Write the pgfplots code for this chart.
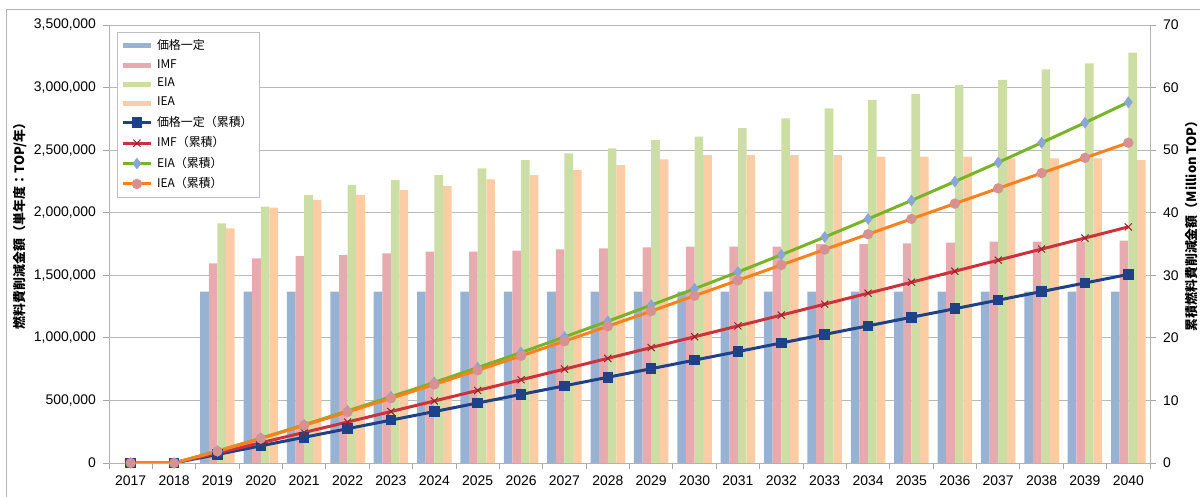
\documentclass[border=0pt]{standalone}
\usepackage{pgfplots}
\pgfplotsset{compat=1.18}
\usepackage{fontspec}
\setmainfont{Liberation Sans}
\newfontfamily\jp{Noto Sans CJK JP}

\definecolor{barblue}{RGB}{152,178,212}
\definecolor{barpink}{RGB}{230,170,175}
\definecolor{bargreen}{RGB}{205,222,165}
\definecolor{barorange}{RGB}{252,205,165}
\definecolor{lnblue}{RGB}{30,65,135}
\definecolor{lnred}{RGB}{205,50,60}
\definecolor{lngreen}{RGB}{120,180,40}
\definecolor{lnorange}{RGB}{250,130,30}
\definecolor{mkdiam}{RGB}{140,165,215}
\definecolor{mkcirc}{RGB}{215,145,145}

\begin{document}
\begin{tikzpicture}
\useasboundingbox (-54.5bp,-17bp) rectangle (545.5bp,231.5bp);
\draw[gray!60] (-51.2bp,-20bp) -- (-51.2bp,227bp) -- (550bp,227bp);

\pgfplotsset{
  base/.style={
    at={(0,0)}, anchor=south west,
    scale only axis, width=520.5bp, height=219bp,
    xmin=2016.5, xmax=2040.5,
    tick label style={font=\fontsize{7}{8}\selectfont},
    /pgf/number format/assume math mode=true,
    tick style={gray!70, thin},
    tick align=outside,
    major tick length=3bp,
    axis line style={-, gray!60},
  },
}

% single-year savings (bars, left axis)
\begin{axis}[base,
  ybar=0pt, bar width=4.3bp,
  ymin=0, ymax=3500000,
  ytick={0,500000,1000000,1500000,2000000,2500000,3000000,3500000},
  scaled y ticks=false,
  yticklabel style={/pgf/number format/.cd, fixed, 1000 sep={,}},
  ymajorgrids, grid style={gray!55, thin},
  axis x line*=bottom, axis y line*=left,
  xtick={2016.5,2017.5,2018.5,2019.5,2020.5,2021.5,2022.5,2023.5,2024.5,2025.5,2026.5,2027.5,2028.5,2029.5,2030.5,2031.5,2032.5,2033.5,2034.5,2035.5,2036.5,2037.5,2038.5,2039.5,2040.5},
  xticklabels={},
  extra x ticks={2017,2018,2019,2020,2021,2022,2023,2024,2025,2026,2027,2028,2029,2030,2031,2032,2033,2034,2035,2036,2037,2038,2039,2040},
  extra x tick labels={2017,2018,2019,2020,2021,2022,2023,2024,2025,2026,2027,2028,2029,2030,2031,2032,2033,2034,2035,2036,2037,2038,2039,2040},
  extra x tick style={major tick length=0pt, xticklabel style={yshift=-3bp}},
  ylabel={\jp\bfseries 燃料費削減金額（単年度：TOP/年）},
  ylabel style={at={(axis description cs:-0.0855,0.548)}, anchor=center, font=\fontsize{6.5}{7}\selectfont},
]
\addplot[fill=barblue, draw=none] coordinates {
(2019,1370000) (2020,1370000) (2021,1370000) (2022,1370000) (2023,1370000) (2024,1370000)
(2025,1370000) (2026,1370000) (2027,1370000) (2028,1370000) (2029,1370000) (2030,1370000)
(2031,1370000) (2032,1370000) (2033,1370000) (2034,1370000) (2035,1370000) (2036,1370000)
(2037,1370000) (2038,1370000) (2039,1370000) (2040,1370000)};
\addplot[fill=barpink, draw=none] coordinates {
(2019,1596000) (2020,1636000) (2021,1654000) (2022,1662000) (2023,1676000) (2024,1689000)
(2025,1689000) (2026,1697000) (2027,1708000) (2028,1716000) (2029,1724000) (2030,1729000)
(2031,1729000) (2032,1729000) (2033,1750000) (2034,1750000) (2035,1755000) (2036,1761000)
(2037,1769000) (2038,1769000) (2039,1769000) (2040,1777000)};
\addplot[fill=bargreen, draw=none] coordinates {
(2019,1915000) (2020,2048000) (2021,2142000) (2022,2222000) (2023,2261000) (2024,2301000)
(2025,2355000) (2026,2421000) (2027,2475000) (2028,2515000) (2029,2581000) (2030,2608000)
(2031,2675000) (2032,2754000) (2033,2834000) (2034,2901000) (2035,2949000) (2036,3021000)
(2037,3061000) (2038,3146000) (2039,3194000) (2040,3279000)};
\addplot[fill=barorange, draw=none] coordinates {
(2019,1875000) (2020,2040000) (2021,2102000) (2022,2142000) (2023,2182000) (2024,2214000)
(2025,2267000) (2026,2301000) (2027,2341000) (2028,2381000) (2029,2427000) (2030,2461000)
(2031,2461000) (2032,2461000) (2033,2461000) (2034,2448000) (2035,2448000) (2036,2448000)
(2037,2435000) (2038,2435000) (2039,2435000) (2040,2421000)};
\end{axis}

% cumulative savings (lines, right axis)
\begin{axis}[base,
  ymin=0, ymax=70, ytick={0,10,20,30,40,50,60,70},
  axis y line*=right, axis x line=none,
  ylabel={\jp\bfseries 累積燃料費削減金額（Million TOP）},
  ylabel style={at={(axis description cs:1.0404,0.548)}, anchor=center, font=\fontsize{6.5}{7}\selectfont},
  legend cell align=left,
  legend style={at={(axis description cs:0.0077,0.984)}, anchor=north west,
    draw=gray!50, fill=white, font=\jp\fontsize{6}{7}\selectfont,
    row sep=0pt, inner sep=1.5bp, nodes={inner sep=1.8bp}},
  legend image code/.code={\draw[mark repeat=2, mark phase=2, #1] plot coordinates {(0bp,0bp) (7bp,0bp) (14bp,0bp)};},
]
\addlegendimage{line width=2.5bp, color=barblue, no markers}
\addlegendentry{価格一定}
\addlegendimage{line width=2.5bp, color=barpink, no markers}
\addlegendentry{IMF}
\addlegendimage{line width=2.5bp, color=bargreen, no markers}
\addlegendentry{EIA}
\addlegendimage{line width=2.5bp, color=barorange, no markers}
\addlegendentry{IEA}

\addplot[color=lnblue, line width=1.5bp, mark=square*, mark size=1.9bp, mark options={fill=lnblue, draw=lnblue}] coordinates {
(2017,0) (2018,0) (2019,1.37) (2020,2.74) (2021,4.11) (2022,5.48) (2023,6.85) (2024,8.22)
(2025,9.59) (2026,10.96) (2027,12.33) (2028,13.70) (2029,15.07) (2030,16.44) (2031,17.81)
(2032,19.18) (2033,20.55) (2034,21.92) (2035,23.29) (2036,24.66) (2037,26.03) (2038,27.40)
(2039,28.77) (2040,30.14)};
\addlegendentry{価格一定（累積）}
\addplot[color=lnred, line width=1.5bp, mark=x, mark size=2.5bp, mark options={line width=0.5bp, draw=lnred!75!black}] coordinates {
(2017,0) (2018,0) (2019,1.596) (2020,3.232) (2021,4.886) (2022,6.548) (2023,8.224) (2024,9.913)
(2025,11.602) (2026,13.299) (2027,15.007) (2028,16.723) (2029,18.447) (2030,20.176) (2031,21.905)
(2032,23.634) (2033,25.384) (2034,27.134) (2035,28.889) (2036,30.650) (2037,32.419) (2038,34.188)
(2039,35.957) (2040,37.734)};
\addlegendentry{IMF（累積）}
\addplot[color=lngreen, line width=1.5bp, mark=diamond*, mark size=1.7bp, mark options={fill=mkdiam, draw=mkdiam}] coordinates {
(2017,0) (2018,0) (2019,1.915) (2020,3.963) (2021,6.105) (2022,8.327) (2023,10.588) (2024,12.889)
(2025,15.244) (2026,17.665) (2027,20.140) (2028,22.655) (2029,25.236) (2030,27.844) (2031,30.519)
(2032,33.273) (2033,36.107) (2034,39.008) (2035,41.957) (2036,44.978) (2037,48.039) (2038,51.185)
(2039,54.379) (2040,57.658)};
\addlegendentry{EIA（累積）}
\addplot[color=lnorange, line width=1.5bp, mark=*, mark size=1.8bp, mark options={fill=mkcirc, draw=mkcirc}] coordinates {
(2017,0) (2018,0) (2019,1.875) (2020,3.915) (2021,6.017) (2022,8.159) (2023,10.341) (2024,12.555)
(2025,14.822) (2026,17.123) (2027,19.464) (2028,21.845) (2029,24.272) (2030,26.733) (2031,29.194)
(2032,31.655) (2033,34.116) (2034,36.564) (2035,39.012) (2036,41.460) (2037,43.895) (2038,46.330)
(2039,48.765) (2040,51.186)};
\addlegendentry{IEA（累積）}
\end{axis}
\end{tikzpicture}
\end{document}
